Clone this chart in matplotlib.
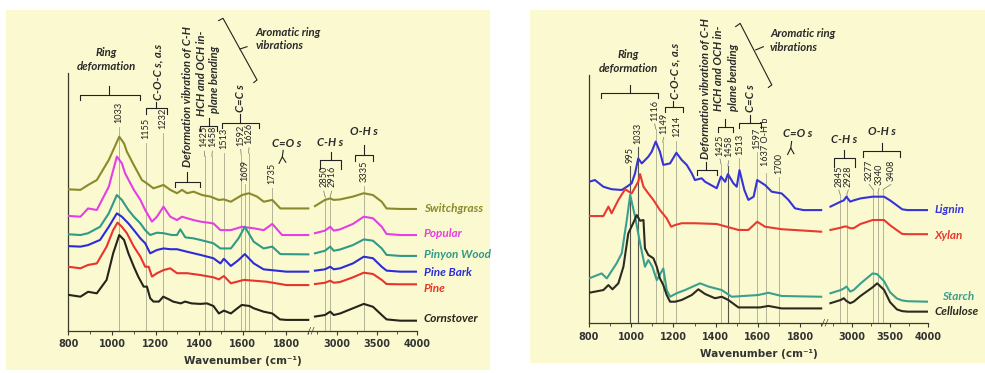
import numpy as np
import matplotlib.pyplot as plt
from matplotlib.patches import Rectangle

plt.rcParams['font.family'] = ['Lato', 'DejaVu Sans']

# ---- left panel: biomass samples, stacked absorbance (a.u.) ----
switchgrass_x = [800, 855, 890, 930, 985, 1033, 1055, 1068, 1100, 1137, 1160, 1190, 1236, 1267, 1298,
                 1321, 1344, 1374, 1413, 1451, 1489, 1513, 1545, 1596, 1628, 1665, 1696, 1735, 1772, 1900]
switchgrass_y = [54.9, 54.7, 56.6, 58.5, 66.3, 75.3, 72.7, 69.5, 64.3, 58.5, 57.2, 55.3, 56.6, 54.7, 53.4,
                 54.7, 53.4, 54.0, 52.7, 52.1, 50.8, 51.0, 50.1, 52.7, 53.4, 52.1, 50.1, 50.8, 47.5, 47.5]
popular_x = [800, 855, 890, 930, 985, 1022, 1045, 1060, 1100, 1130, 1152, 1183, 1206, 1236, 1267,
             1298, 1321, 1344, 1374, 1405, 1465, 1497, 1545, 1596, 1650, 1696, 1735, 1780, 1900]
popular_y = [44.6, 44.3, 47.5, 46.9, 55.9, 67.6, 65.0, 61.1, 54.7, 50.8, 46.9, 42.4, 44.3, 48.2, 44.3,
             43.0, 44.3, 43.7, 43.0, 42.4, 41.7, 39.1, 39.1, 40.4, 39.8, 39.1, 41.5, 37.2, 37.2]
pinyon_x = [800, 855, 890, 945, 985, 1022, 1045, 1075, 1100, 1130, 1152, 1175, 1206, 1236, 1275,
            1298, 1313, 1336, 1374, 1405, 1465, 1497, 1545, 1580, 1609, 1650, 1695, 1735, 1772, 1900]
pinyon_y = [37.5, 37.2, 37.9, 40.4, 45.6, 52.7, 50.8, 46.9, 44.3, 41.7, 39.1, 37.2, 38.1, 37.9, 37.2,
            37.2, 39.4, 36.3, 35.9, 35.3, 34.0, 32.0, 32.0, 35.9, 40.4, 34.6, 32.0, 32.7, 29.8, 29.7]
pinebark_x = [800, 855, 890, 945, 985, 1022, 1045, 1075, 1100, 1130, 1152, 1175, 1206, 1236, 1267,
              1298, 1345, 1405, 1465, 1497, 1513, 1545, 1580, 1609, 1650, 1695, 1800, 1900]
pinebark_y = [32.9, 32.7, 33.3, 35.3, 40.4, 45.6, 44.3, 41.7, 39.1, 35.9, 34.0, 30.1, 31.4, 32.0, 31.7,
              31.7, 30.7, 29.5, 28.2, 26.2, 28.0, 25.2, 27.5, 29.8, 26.2, 23.9, 23.0, 23.0]
pine_x = [800, 855, 890, 930, 975, 1005, 1025, 1045, 1068, 1100, 1130, 1152, 1168, 1183, 1206,
          1236, 1267, 1298, 1345, 1405, 1465, 1490, 1513, 1545, 1605, 1650, 1710, 1800, 1900]
pine_y = [24.9, 24.3, 25.6, 26.2, 32.7, 39.1, 42.0, 40.4, 37.9, 32.7, 28.8, 24.9, 24.9, 21.1, 22.4,
          23.6, 24.3, 22.4, 22.4, 21.7, 20.8, 20.0, 21.3, 18.5, 19.8, 19.5, 19.1, 17.8, 17.8]
cornstover_x = [800, 855, 890, 930, 975, 1005, 1033, 1055, 1075, 1100, 1120, 1145, 1160, 1175, 1190,
                1215, 1235, 1260, 1280, 1315, 1335, 1365, 1405, 1435, 1465, 1490, 1513, 1545, 1575, 1595,
                1630, 1650, 1695, 1735, 1770, 1800, 1900]
cornstover_y = [14.0, 13.3, 15.2, 14.6, 19.8, 30.1, 37.2, 35.3, 30.1, 24.9, 21.1, 17.2, 17.2, 12.7, 11.4,
                11.4, 13.3, 12.3, 11.4, 10.7, 11.4, 10.7, 10.5, 10.7, 9.7, 6.8, 7.9, 6.8, 8.8, 10.1,
                9.7, 8.8, 7.5, 6.8, 4.5, 4.3, 4.3]

left_hi_x = [2725, 2850, 2916, 2960, 3040, 3200, 3335, 3450, 3560, 3620, 3790, 4000]
switchgrass_hi = [48.4, 50.8, 51.4, 50.8, 51.0, 52.1, 53.4, 52.7, 50.1, 47.5, 47.3, 47.3]
popular_hi = [37.9, 38.9, 40.4, 38.9, 39.4, 41.5, 44.3, 43.7, 40.4, 37.6, 37.2, 37.2]
pinyon_hi = [30.1, 31.1, 32.7, 31.1, 31.6, 33.3, 35.5, 35.0, 32.0, 29.5, 29.1, 29.1]
pinebark_hi = [23.4, 23.9, 24.9, 23.9, 24.3, 26.2, 28.8, 28.2, 24.9, 23.4, 23.0, 23.0]
pine_hi = [18.2, 18.7, 19.5, 18.7, 19.0, 20.8, 22.6, 22.1, 19.8, 18.2, 18.1, 18.1]
cornstover_hi = [5.6, 6.2, 7.5, 6.2, 6.8, 8.8, 10.5, 9.4, 6.2, 4.5, 4.0, 4.0]

left_names = ['Switchgrass', 'Popular', 'Pinyon Wood', 'Pine Bark', 'Pine', 'Cornstover']
left_colors = ['#8a8a2c', '#e43fe4', '#2f9a86', '#2c2cd6', '#e8342c', '#24241a']
left_label_y = [47.5, 37.6, 29.5, 22.6, 16.5, 4.9]

# ---- right panel: pure components ----
lignin_x = [800, 828, 868, 907, 955, 979, 1002, 1018, 1033, 1050, 1081, 1097, 1116, 1136, 1152,
            1184, 1214, 1239, 1263, 1287, 1302, 1334, 1350, 1405, 1425, 1445, 1458, 1484, 1500, 1513,
            1536, 1555, 1580, 1597, 1634, 1666, 1713, 1745, 1776, 1816, 1900]
lignin_y = [57.0, 57.7, 55.0, 54.0, 53.7, 55.0, 56.4, 60.4, 66.4, 64.4, 67.1, 69.1, 73.2, 69.1, 63.8,
            64.4, 68.7, 65.8, 63.8, 60.4, 57.7, 58.4, 57.0, 54.4, 59.1, 57.0, 60.1, 56.4, 55.0, 61.7,
            53.7, 49.7, 51.0, 57.7, 55.7, 53.0, 52.3, 49.7, 46.3, 45.6, 45.6]
xylan_x = [800, 868, 892, 907, 939, 971, 1002, 1033, 1042, 1058, 1081, 1105, 1136, 1168, 1189,
           1208, 1239, 1302, 1405, 1508, 1555, 1597, 1634, 1713, 1900]
xylan_y = [43.2, 43.2, 47.0, 44.3, 49.7, 54.0, 52.3, 57.0, 60.1, 55.0, 52.3, 49.7, 45.6, 42.3, 38.9,
           39.6, 40.3, 40.3, 40.0, 37.6, 37.6, 40.9, 38.9, 37.9, 36.9]
starch_x = [800, 860, 884, 931, 955, 979, 995, 1018, 1042, 1065, 1081, 1100, 1121, 1152, 1168,
            1184, 1215, 1255, 1326, 1366, 1429, 1476, 1602, 1650, 1713, 1900]
starch_y = [18.1, 20.1, 18.1, 24.2, 28.2, 41.6, 51.7, 43.0, 32.2, 22.8, 25.5, 22.8, 17.4, 22.1, 13.4,
            10.7, 12.1, 13.4, 16.1, 14.8, 13.4, 10.7, 11.4, 12.3, 11.0, 10.7]
cellulose_x = [800, 868, 892, 911, 939, 963, 986, 1010, 1026, 1042, 1058, 1065, 1081, 1105, 1121,
               1136, 1152, 1168, 1184, 1208, 1239, 1287, 1318, 1350, 1397, 1429, 1460, 1508, 1610, 1650,
               1713, 1900]
cellulose_y = [12.3, 13.4, 15.4, 13.7, 16.1, 22.8, 36.2, 40.5, 43.6, 41.3, 41.6, 30.2, 27.5, 26.2, 22.8,
               18.1, 15.4, 11.4, 8.7, 8.7, 9.4, 11.4, 13.7, 11.8, 10.1, 10.7, 9.4, 6.4, 6.4, 7.0,
               6.0, 6.0]

right_hi_x = [2715, 2850, 2890, 2925, 2975, 3020, 3110, 3270, 3330, 3420, 3500, 3590, 3660, 3730, 4000]
lignin_hi = [47.0, 49.0, 49.5, 51.0, 49.0, 49.5, 50.3, 51.0, 51.0, 51.0, 49.5, 47.5, 45.9, 45.6, 45.6]
xylan_hi = [37.6, 38.5, 38.9, 39.0, 38.3, 38.3, 40.0, 41.6, 41.6, 41.6, 39.5, 37.5, 36.0, 35.9, 35.9]
starch_hi = [12.1, 13.4, 14.0, 14.8, 12.8, 13.4, 16.0, 20.1, 19.8, 17.0, 12.5, 10.0, 9.2, 8.9, 8.7]
cellulose_hi = [8.1, 9.4, 10.1, 9.0, 8.1, 8.7, 11.0, 14.5, 16.1, 13.5, 8.5, 5.6, 4.9, 4.7, 4.7]

right_names = ['Lignin', 'Xylan', 'Starch', 'Cellulose']
right_colors = ['#3434d8', '#e83a30', '#3aa08e', '#2a2a20']
right_label_y = [45.9, 35.4, 10.7, 4.7]
right_label_x = [1.02, 1.02, 1.04, 1.02]

# peak marks: wavenumber, text, label centre height, label x
left_peaks = [(1033, '1033', 84.6, 1033), (1155, '1155', 78.6, 1155), (1232, '1232', 82.4, 1232),
              (1425, '1425', 75.3, 1423), (1458, '1458', 75.3, 1460), (1513, '1513', 74.7, 1513),
              (1592, '1592', 76.0, 1590), (1626, '1626', 76.6, 1628), (1609, '1609', 62.4, 1609),
              (1735, '1735', 61.1, 1735), (2850, '2850', 59.8, 2835), (2916, '2916', 59.8, 2935),
              (3335, '3335', 61.8, 3335)]
right_peaks = [(995, '995', 67.8, 995), (1033, '1033', 76.5, 1033), (1116, '1116', 85.9, 1111),
               (1149, '1149', 80.5, 1154), (1214, '1214', 79.2, 1214), (1425, '1425', 71.8, 1421),
               (1458, '1458', 71.1, 1462), (1513, '1513', 72.2, 1513), (1597, '1597', 74.5, 1597),
               (1637, '1637 O-H b', 73.2, 1637), (1700, '1700', 64.4, 1700),
               (2845, '2845', 59.3, 2825), (2928, '2928', 59.3, 2950), (3277, '3277', 61.5, 3225),
               (3340, '3340', 60.0, 3355), (3408, '3408', 61.5, 3510)]
right_dark = [995, 1033, 1458]

major_ticks = [800, 1000, 1200, 1400, 1600, 1800, 3000, 3500, 4000]
minor_ticks = [900, 1100, 1300, 1500, 1700, 1900, 2750, 3250, 3750]

ITAL = dict(fontsize=8.2, fontweight='bold', style='italic', color='#2a2a2a')


def broken_scale(gap, ratio):
    # 800-1900 full width, 1900-2700 squeezed into the break, 2700-4000 shrunk
    def fwd(x):
        x = np.asarray(x, dtype=float)
        return np.where(x <= 1900, x,
                        np.where(x <= 2700, 1900 + (x - 1900) * gap / 800.0,
                                 1900 + gap + (x - 2700) * ratio))

    def inv(v):
        v = np.asarray(v, dtype=float)
        return np.where(v <= 1900, v,
                        np.where(v <= 1900 + gap, 1900 + (v - 1900) * 800.0 / gap,
                                 2700 + (v - 1900 - gap) / ratio))
    return fwd, inv


def setup_axes(ax, gap, ratio):
    ax.set_xscale('function', functions=broken_scale(gap, ratio))
    ax.set_xlim(800, 4000)
    ax.set_ylim(0, 100)
    ax.patch.set_visible(False)
    for s in ['top', 'right']:
        ax.spines[s].set_visible(False)
    for s in ['left', 'bottom']:
        ax.spines[s].set_color('#3a3a2a')
        ax.spines[s].set_linewidth(0.9)
    ax.spines['left'].set_bounds(0, 100)
    ax.set_yticks([])
    ax.set_xticks(major_ticks, labels=[str(t) for t in major_ticks], fontweight='bold',
                  family='DejaVu Sans', fontsize=7, color='#333333')
    ax.set_xticks(minor_ticks, minor=True)
    ax.tick_params(axis='x', which='major', direction='out', length=3, width=0.8, pad=3,
                   color='#3a3a2a')
    ax.tick_params(axis='x', which='minor', direction='out', length=2, width=0.6, color='#3a3a2a')
    ax.set_xlabel('Wavenumber (cm⁻¹)', fontweight='bold', family='DejaVu Sans', fontsize=7.5,
                  color='#333333', labelpad=5)
    ax.text(2300, 0, '//', fontsize=7, ha='center', va='center', color='#3a3a2a')


def peak_lines(ax, peaks, dark=()):
    for w, s, yl, xl in peaks:
        bottom = yl - (len(s) * 1.2 + 0.8)
        c, lw = ('#555548', 0.8) if w in dark else ('#a8a890', 0.6)
        if xl == w:
            ax.plot([w, w], [0, bottom], color=c, lw=lw, zorder=1)
        else:
            # label pushed aside: short leader from the label to its line
            ax.plot([w, w], [0, bottom - 2.0], color=c, lw=lw, zorder=1)
            ax.plot([xl, w], [bottom, bottom - 2.0], color='#888877', lw=0.6, zorder=1)
        ax.text(xl, yl, s, rotation=90, ha='center', va='center', fontsize=6.6, color='#222222')


def bracket(ax, x0, x1, xm, y, ytip, hook):
    ax.plot([x0, x0, x1, x1], [y - hook, y, y, y - hook], color='#222222', lw=0.8, clip_on=False)
    ax.plot([xm, xm], [y, ytip], color='#222222', lw=0.8, clip_on=False)


def draw_line(ax, xs, ys, color):
    ax.plot(xs, ys, color=color, lw=1.5, solid_joinstyle='round', zorder=3)


fig = plt.figure(figsize=(9.85, 3.73), dpi=100)
fig.patches.append(Rectangle((0.0061, 0.008), 0.4914, 0.965, transform=fig.transFigure,
                             facecolor='#fbf9cf', edgecolor='none', zorder=-10))
fig.patches.append(Rectangle((0.538, 0.0268), 0.462, 0.946, transform=fig.transFigure,
                             facecolor='#fbf9cf', edgecolor='none', zorder=-10))

# ---------------- left panel ----------------
ax1 = fig.add_axes([0.0695, 0.1126, 0.3538, 0.6917])
setup_axes(ax1, 21.5, 0.367)
peak_lines(ax1, left_peaks)
lo = [(switchgrass_x, switchgrass_y), (popular_x, popular_y), (pinyon_x, pinyon_y),
      (pinebark_x, pinebark_y), (pine_x, pine_y), (cornstover_x, cornstover_y)]
hi = [switchgrass_hi, popular_hi, pinyon_hi, pinebark_hi, pine_hi, cornstover_hi]
for (xs, ys), yh, name, c, ly in zip(lo, hi, left_names, left_colors, left_label_y):
    draw_line(ax1, xs, ys, c)
    draw_line(ax1, left_hi_x, yh, c)
    ax1.text(1.02, ly, name, transform=ax1.get_yaxis_transform(), color=c, fontsize=8.5,
             fontweight='bold', style='italic', va='center', ha='left')

bracket(ax1, 854, 1129, 988, 91.5, 95.0, 2.0)
bracket(ax1, 1155, 1252, 1203, 86.3, 88.9, 2.0)
bracket(ax1, 1290, 1402, 1344, 57.9, 61.8, 2.0)
bracket(ax1, 1402, 1481, 1443, 79.5, 82.5, 2.0)
bracket(ax1, 1504, 1673, 1589, 80.5, 84.0, 2.0)
bracket(ax1, 2790, 3050, 2921, 66.3, 69.5, 3.5)
bracket(ax1, 3220, 3450, 3335, 68.2, 72.1, 2.5)
ax1.text(973, 105.3, 'Ring\ndeformation', ha='center', va='center', linespacing=1.3, **ITAL)
ax1.text(1212, 89.5, 'C-O-C s, a.s', rotation=90, ha='center', va='bottom', **ITAL)
ax1.text(1344, 63.5, 'Deformation vibration of C-H', rotation=90, ha='center', va='bottom', **ITAL)
ax1.text(1408, 83.5, 'HCH and OCH in-', rotation=90, ha='center', va='bottom', **ITAL)
ax1.text(1470, 84.5, 'plane bending', rotation=90, ha='center', va='bottom', **ITAL)
ax1.text(1589, 85.0, 'C=C s', rotation=90, ha='center', va='bottom', **ITAL)
ax1.plot([1489, 1509, 1665, 1650], [120.3, 121.2, 97.3, 96.3], color='#222222', lw=0.8, clip_on=False)
ax1.plot([1587, 1619], [109.3, 110.2], color='#222222', lw=0.8, clip_on=False)
ax1.text(1658, 113.2, 'Aromatic ring\nvibrations', ha='left', va='center', linespacing=1.3, **ITAL)
ax1.text(1800, 72.7, 'C=O s', ha='center', va='center', **ITAL)
ax1.plot([1785, 1781], [70.0, 67.5], color='#222222', lw=0.8, clip_on=False)
ax1.plot([1766, 1781, 1797], [65.0, 67.5, 65.4], color='#222222', lw=0.8, clip_on=False)
ax1.text(2921, 73.0, 'C-H s', ha='center', va='center', **ITAL)
ax1.text(3335, 77.3, 'O-H s', ha='center', va='center', **ITAL)

# ---------------- right panel ----------------
ax2 = fig.add_axes([0.598, 0.1332, 0.3442, 0.6657])
setup_axes(ax2, 38.6, 0.36)
peak_lines(ax2, right_peaks, right_dark)
lo = [(lignin_x, lignin_y), (xylan_x, xylan_y), (starch_x, starch_y), (cellulose_x, cellulose_y)]
hi = [lignin_hi, xylan_hi, starch_hi, cellulose_hi]
for (xs, ys), yh, name, c, ly, lx in zip(lo, hi, right_names, right_colors, right_label_y, right_label_x):
    draw_line(ax2, xs, ys, c)
    draw_line(ax2, right_hi_x, yh, c)
    ax2.text(lx, ly, name, transform=ax2.get_yaxis_transform(), color=c, fontsize=8.5,
             fontweight='bold', style='italic', va='center', ha='left')

bracket(ax2, 857, 1129, 994, 92.6, 96.0, 2.0)
bracket(ax2, 1160, 1247, 1200, 87.0, 89.6, 2.0)
bracket(ax2, 1310, 1405, 1354, 61.7, 65.1, 2.0)
bracket(ax2, 1410, 1480, 1445, 79.0, 82.1, 2.0)
bracket(ax2, 1513, 1615, 1565, 80.5, 84.0, 2.0)
bracket(ax2, 2760, 3035, 2890, 66.5, 69.8, 3.5)
bracket(ax2, 3140, 3636, 3395, 69.5, 72.8, 2.5)
ax2.text(986, 105.4, 'Ring\ndeformation', ha='center', va='center', linespacing=1.3, **ITAL)
ax2.text(1207, 90.2, 'C-O-C s, a.s', rotation=90, ha='center', va='bottom', **ITAL)
ax2.text(1350, 66.0, 'Deformation vibration of C-H', rotation=90, ha='center', va='bottom', **ITAL)
ax2.text(1415, 85.5, 'HCH and OCH in-', rotation=90, ha='center', va='bottom', **ITAL)
ax2.text(1484, 85.5, 'plane bending', rotation=90, ha='center', va='bottom', **ITAL)
ax2.text(1565, 85.2, 'C=C s', rotation=90, ha='center', va='bottom', **ITAL)
ax2.plot([1495, 1516, 1666, 1650], [119.5, 120.8, 96.0, 95.0], color='#222222', lw=0.8, clip_on=False)
ax2.plot([1590, 1626], [110.1, 111.4], color='#222222', lw=0.8, clip_on=False)
ax2.text(1658, 113.8, 'Aromatic ring\nvibrations', ha='left', va='center', linespacing=1.3, **ITAL)
ax2.text(1790, 76.5, 'C=O s', ha='center', va='center', **ITAL)
ax2.plot([1760, 1756], [73.2, 70.6], color='#222222', lw=0.8, clip_on=False)
ax2.plot([1741, 1756, 1771], [68.0, 70.6, 68.3], color='#222222', lw=0.8, clip_on=False)
ax2.text(2890, 74.0, 'C-H s', ha='center', va='center', **ITAL)
ax2.text(3395, 77.3, 'O-H s', ha='center', va='center', **ITAL)

fig.savefig('out.png', dpi=100)
